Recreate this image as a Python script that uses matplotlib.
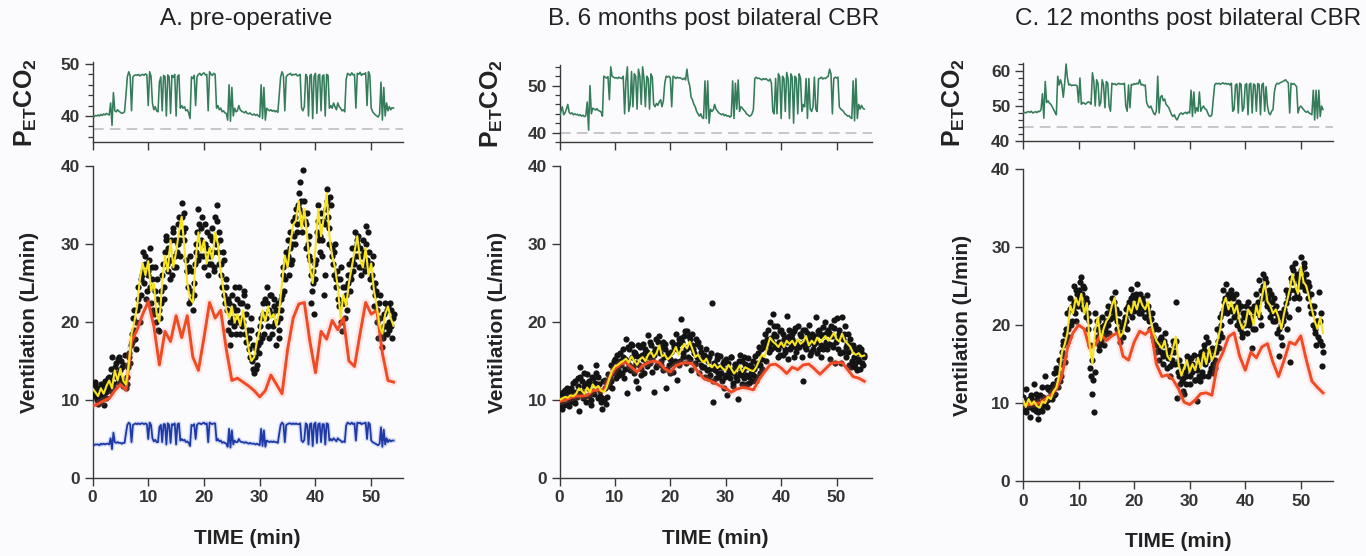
import numpy as np
import matplotlib
matplotlib.use("Agg")
import matplotlib.pyplot as plt
from matplotlib.ticker import MultipleLocator

plt.rcParams['font.family'] = ['Liberation Sans', 'DejaVu Sans']
plt.rcParams['mathtext.fontset'] = 'custom'
plt.rcParams['mathtext.rm'] = 'Liberation Sans'
plt.rcParams['mathtext.bf'] = 'Liberation Sans:bold'

titles = ['A. pre-operative', 'B. 6 months post bilateral CBR', 'C. 12 months post bilateral CBR']
x_ticks = [0, 10, 20, 30, 40, 50]
vent_ticks = [0, 10, 20, 30, 40]

CO2_STEP = 0.25   # min between PETCO2 samples
DOT_STEP = 0.25   # min between breath dots (each dot list)
FIT_STEP = 0.5    # min between yellow fit samples
PRED_STEP = 1.0   # min between red prediction samples

# ---------------- panel A: pre-operative ----------------
co2_a = [
    40.0, 39.8, 40.1, 40.0,  40.2, 40.0, 40.3, 40.1,  40.4, 40.2, 40.5, 40.3,
    40.2, 42.5, 38.2, 44.5,  41.0, 40.8, 41.2, 40.9,  40.7, 40.5, 40.6, 40.8,
    44.0, 47.5, 48.5, 47.8,  41.0, 47.5, 47.8, 47.9,  47.8, 48.0, 47.7, 47.9,
    48.0, 47.8, 48.1, 47.9,  42.0, 48.5, 47.6, 42.5,  41.2, 41.8, 41.0, 40.8,
    46.5, 47.5, 41.0, 47.8,  47.6, 40.0, 47.9, 47.5,  40.5, 47.8, 47.4, 48.0,
    40.0, 47.6, 47.9, 41.5,  42.0, 41.5, 41.8, 41.0,  41.2, 40.6, 39.5, 47.5,
    47.2, 47.8, 42.0, 47.5,  48.0, 48.2, 47.8, 48.1,  48.3, 47.9, 48.0, 41.0,
    48.5, 48.0, 47.8, 48.2,  48.0, 41.5, 42.0, 41.2,  41.5, 40.8, 41.0, 40.6,
    40.5, 39.2, 46.0, 39.0,  45.5, 40.0, 41.5, 40.8,  41.0, 42.0, 41.2, 40.9,
    40.8, 40.6, 40.9, 40.5,  40.4, 40.6, 40.3, 40.2,  40.4, 40.1, 40.3, 40.0,
    39.8, 46.0, 39.5, 45.5,  39.2, 41.5, 41.2, 41.0,  41.2, 40.9, 41.1, 40.8,
    41.0, 40.7, 44.0, 47.5,  48.5, 47.8, 41.0, 47.5,  47.9, 48.0, 48.2, 47.8,
    48.0, 47.9, 48.1, 47.7,  47.8, 48.0, 41.5, 41.0,  41.8, 48.0, 47.5, 40.0,
    47.8, 48.0, 39.5, 47.6,  48.2, 40.5, 47.8, 48.0,  41.0, 47.7, 47.9, 40.0,
    48.0, 47.8, 41.5, 42.0,  41.5, 42.5, 41.8, 41.2,  42.5, 41.8, 41.5, 41.0,
    41.2, 40.8, 47.0, 48.2,  48.0, 47.8, 48.3, 47.9,  48.0, 41.5, 48.2, 48.0,
    48.4, 47.8, 48.1, 48.0,  48.3, 42.0, 48.5, 47.8,  41.5, 40.8, 40.5, 40.2,
    40.0, 39.8, 40.4, 46.5,  39.2, 45.5, 40.0, 42.5,  41.0, 41.8, 41.2, 41.6,
    41.5]
co2_base_a = 37.5
tidal_a = [
    4.3, 4.2, 4.3, 4.3,  4.3, 4.2, 4.4, 4.3,  4.4, 4.3, 4.4, 4.4,
    4.3, 5.1, 3.7, 5.8,  4.6, 4.5, 4.6, 4.5,  4.5, 4.4, 4.5, 4.5,
    5.7, 6.8, 7.1, 6.9,  4.6, 6.8, 6.9, 7.0,  6.9, 7.0, 6.9, 7.0,
    7.0, 6.9, 7.0, 6.9,  5.0, 7.1, 6.8, 5.1,  4.7, 4.9, 4.6, 4.6,
    6.5, 6.8, 4.6, 6.9,  6.9, 4.3, 7.0, 6.8,  4.5, 6.9, 6.8, 7.0,
    4.3, 6.9, 7.0, 4.8,  5.0, 4.8, 4.9, 4.6,  4.7, 4.5, 4.1, 6.8,
    6.7, 6.9, 5.0, 6.8,  7.0, 7.0, 6.9, 7.0,  7.1, 6.9, 7.0, 4.6,
    7.1, 7.0, 6.9, 7.0,  7.0, 4.8, 5.0, 4.7,  4.8, 4.5, 4.6, 4.5,
    4.4, 4.0, 6.3, 3.9,  6.1, 4.3, 4.8, 4.6,  4.6, 5.0, 4.7, 4.6,
    4.6, 4.5, 4.6, 4.5,  4.4, 4.5, 4.4, 4.4,  4.4, 4.3, 4.4, 4.3,
    4.2, 6.3, 4.1, 6.1,  4.0, 4.8, 4.7, 4.6,  4.7, 4.6, 4.7, 4.6,
    4.6, 4.5, 5.7, 6.8,  7.1, 6.9, 4.6, 6.8,  6.9, 7.0, 7.0, 6.9,
    7.0, 6.9, 7.0, 6.9,  6.9, 7.0, 4.8, 4.6,  4.9, 7.0, 6.8, 4.3,
    6.9, 7.0, 4.1, 6.9,  7.1, 4.5, 6.9, 7.0,  4.6, 6.9, 6.9, 4.3,
    7.0, 6.9, 4.8, 5.0,  4.8, 5.1, 4.9, 4.7,  5.1, 4.9, 4.8, 4.6,
    4.7, 4.6, 6.7, 7.1,  7.0, 6.9, 7.1, 6.9,  7.0, 4.8, 7.1, 7.0,
    7.1, 6.9, 7.0, 7.0,  7.1, 5.0, 7.1, 6.9,  4.8, 4.6, 4.5, 4.4,
    4.3, 4.2, 4.4, 6.5,  4.0, 6.2, 4.3, 5.1,  4.6, 4.9, 4.7, 4.8,
    4.8]
dots_a = [
    11.8, 10.5, 12.3, 10.0,  9.5, 11.2, 12.0, 10.3,  9.3, 12.5, 11.0, 12.8,
    13.0, 11.2, 15.5, 12.0,  13.5, 14.8, 12.3, 15.5,  12.8, 14.2, 11.8, 15.8,
    11.5, 13.0, 16.0, 14.8,  17.5, 20.5, 19.0, 16.5,  21.5, 24.5, 20.0, 23.5,
    29.0, 25.0, 27.5, 24.0,  26.5, 29.5, 22.5, 25.5,  21.0, 27.0, 23.0, 19.0,
    18.8, 22.5, 26.0, 24.5,  29.0, 31.0, 26.5, 28.0,  30.5, 26.0, 31.5, 28.5,
    27.0, 30.0, 33.5, 30.5,  35.3, 31.5, 34.0, 28.0,  26.5, 22.5, 28.5, 24.0,
    21.5, 25.0, 29.0, 31.5,  34.5, 28.5, 32.0, 30.0,  27.0, 32.5, 29.5, 26.0,
    31.0, 27.5, 30.5, 26.5,  33.5, 35.0, 29.0, 31.5,  27.5, 24.5, 28.0, 22.5,
    24.5, 19.0, 22.5, 17.0,  23.5, 20.5, 24.5, 18.5,  21.5, 24.5, 18.5, 22.5,
    20.0, 24.0, 17.5, 22.0,  18.0, 15.5, 20.5, 14.0,  13.5, 16.5, 14.5, 18.5,
    17.5, 20.5, 22.5, 18.5,  23.0, 24.5, 19.5, 21.5,  23.5, 18.5, 22.0, 20.0,
    17.0, 22.5, 19.0, 21.5,  23.5, 27.0, 25.5, 29.0,  30.5, 26.0, 31.5, 28.0,
    33.0, 30.0, 34.5, 31.5,  36.5, 37.9, 33.0, 39.5,  35.5, 29.5, 34.0, 31.0,
    28.0, 22.5, 26.5, 21.0,  25.5, 31.5, 35.0, 29.0,  34.0, 28.5, 23.5, 32.5,
    37.0, 33.5, 30.0, 35.0,  29.5, 26.0, 30.0, 24.5,  25.5, 22.0, 27.0, 18.8,
    24.5, 20.5, 23.5, 26.0,  27.5, 24.0, 29.5, 26.5,  31.5, 28.5, 30.0, 27.0,
    29.5, 26.0, 30.5, 27.5,  32.3, 28.0, 31.5, 25.5,  27.5, 24.5, 22.0, 25.0,
    21.5, 18.0, 23.5, 19.0,  16.8, 19.5, 22.5, 18.5,  22.0, 19.0, 21.5, 18.0,
    21.0]
dots2_a = [  # breaths in between, starting at 0.125 min
    11.0, 12.0, 10.8, 11.5,  10.5, 9.8, 11.5, 10.8,  11.8, 10.2, 12.2, 11.5,
    12.5, 14.0, 11.8, 13.2,  14.2, 13.0, 15.2, 13.8,  15.0, 12.5, 14.5, 12.2,
    12.0, 14.2, 15.5, 17.0,  18.5, 21.5, 17.8, 20.0,  23.0, 22.0, 25.5, 26.0,
    26.5, 28.5, 23.0, 26.0,  28.0, 24.5, 27.0, 21.5,  24.0, 20.0, 25.5, 21.5,
    20.5, 24.0, 27.5, 23.0,  30.5, 27.5, 29.5, 25.5,  28.0, 32.0, 27.0, 30.5,
    29.0, 32.5, 28.5, 31.5,  33.5, 30.5, 32.0, 26.5,  24.5, 27.0, 23.0, 26.5,
    23.5, 27.5, 30.0, 28.0,  32.5, 30.5, 33.5, 28.5,  30.0, 28.5, 31.5, 27.5,
    28.5, 32.0, 29.0, 27.0,  30.0, 33.0, 27.5, 30.5,  26.0, 29.0, 23.5, 25.5,
    21.5, 23.0, 20.0, 18.5,  22.0, 19.5, 21.5, 23.0,  20.0, 22.5, 20.5, 19.5,
    23.5, 18.5, 21.0, 19.0,  16.5, 19.0, 15.0, 17.0,  15.5, 14.0, 17.0, 16.0,
    19.5, 18.0, 21.0, 20.5,  20.5, 22.5, 18.0, 23.5,  21.0, 19.5, 23.0, 21.5,
    20.0, 18.0, 20.5, 23.0,  26.0, 24.0, 28.0, 27.5,  28.5, 29.5, 27.5, 30.0,
    31.0, 33.5, 32.5, 35.0,  34.5, 35.5, 31.5, 34.0,  33.0, 32.5, 30.0, 28.5,
    26.0, 24.0, 25.0, 27.5,  28.0, 33.0, 30.5, 31.0,  30.5, 33.0, 26.0, 34.5,
    35.5, 32.0, 36.0, 28.5,  27.5, 29.0, 25.5, 26.5,  23.0, 25.5, 20.0, 22.5,
    22.5, 24.5, 21.5, 25.0,  26.0, 25.5, 28.0, 27.5,  29.5, 30.5, 31.0, 28.5,
    27.0, 28.5, 29.0, 26.5,  30.0, 27.0, 29.0, 27.5,  26.0, 28.5, 23.5, 24.0,
    20.0, 22.5, 20.5, 18.5,  18.0, 21.0, 19.5, 21.5,  20.0, 22.5, 19.5, 20.5]
fit_a = [
    11.5, 11.0, 10.5, 11.5, 10.8, 11.8, 12.5, 11.5, 13.8, 12.5, 14.0, 12.5,
    12.0, 14.5, 18.5, 20.0, 22.0, 25.5, 27.5, 26.0, 27.8, 24.0, 25.0, 21.0,
    20.0, 25.0, 28.5, 26.5, 30.5, 27.0, 29.0, 31.5, 33.5, 29.5, 25.0, 23.0,
    22.5, 28.0, 31.5, 29.0, 30.5, 27.5, 29.5, 28.0, 31.5, 30.0, 26.5, 24.0,
    21.5, 20.5, 22.0, 20.0, 21.0, 19.5, 21.5, 19.0, 16.5, 15.0, 15.5, 17.5,
    19.0, 21.5, 20.0, 22.0, 20.5, 21.0, 19.5, 21.5, 25.0, 28.5, 27.0, 30.0,
    32.5, 33.0, 35.5, 32.0, 34.5, 31.0, 27.0, 25.0, 29.5, 34.5, 31.0, 33.5,
    36.5, 31.0, 28.5, 27.0, 24.5, 20.5, 23.5, 22.0, 25.0, 27.0, 29.0, 31.0,
    28.0, 27.0, 29.5, 26.0, 27.5, 24.0, 22.0, 19.5, 18.5, 21.0, 22.0, 20.5,
    19.5]
pred_a = [
    9.2, 9.5, 9.9, 10.2, 11.2, 12.0, 11.3, 17.5, 19.0, 21.0, 22.6, 19.5,
    14.5, 18.8, 17.5, 20.8, 18.0, 20.8, 15.5, 13.8, 18.0, 22.5, 20.5, 21.5,
    16.5, 12.5, 12.8, 12.3, 11.8, 11.2, 10.4, 11.2, 13.2, 12.0, 10.8, 16.5,
    20.5, 22.3, 22.5, 17.5, 13.5, 18.8, 17.8, 20.2, 19.0, 20.5, 15.0, 14.3,
    18.5, 22.5, 21.0, 21.5, 16.0, 12.5, 12.3]

# ---------------- panel B: 6 months ----------------
co2_b = [
    43.5, 44.5, 45.5, 43.8,  44.2, 45.0, 46.0, 44.3,  44.0, 44.2, 43.8, 44.0,
    43.8, 43.9, 43.6, 43.8,  43.5, 43.7, 43.4, 43.6,  46.5, 40.5, 50.0, 44.0,
    45.2, 45.0, 44.8, 45.1,  44.7, 44.6, 44.4, 43.5,  52.0, 51.8, 51.6, 51.9,
    47.0, 54.0, 52.0, 51.8,  51.6, 51.7, 51.5, 51.8,  51.6, 51.5, 52.0, 44.0,
    51.0, 54.0, 44.5, 46.0,  53.0, 45.5, 52.5, 52.0,  45.0, 53.5, 52.0, 46.0,
    54.0, 51.5, 45.5, 52.0,  51.5, 45.0, 52.5, 51.8,  46.0, 45.5, 46.2, 45.8,
    46.5, 47.0, 45.5, 46.8,  50.5, 52.0, 51.8, 52.0,  51.6, 45.5, 52.0, 51.8,
    51.5, 51.8, 51.6, 51.7,  51.5, 51.3, 51.6, 51.2,  53.5, 51.0, 50.0, 47.5,
    47.0, 46.0, 45.5, 44.5,  44.0, 43.5, 44.0, 43.2,  43.0, 51.0, 43.0, 51.0,
    42.0, 45.0, 44.5, 44.8,  46.0, 45.0, 44.6, 44.2,  44.0, 43.8, 44.0, 43.6,
    43.8, 43.5, 43.6, 43.3,  43.5, 51.0, 43.0, 50.5,  45.0, 51.2, 44.5, 45.5,
    45.2, 44.8, 44.5, 44.0,  43.8, 43.5, 43.6, 44.0,  45.0, 51.5, 51.8, 51.5,
    51.6, 51.4, 51.2, 51.5,  51.3, 51.5, 51.2, 51.0,  51.4, 50.5, 44.5, 44.0,
    51.5, 44.0, 52.5, 51.8,  43.0, 52.0, 51.5, 44.5,  52.8, 51.5, 43.0, 52.5,
    51.8, 42.0, 52.0, 51.5,  44.0, 52.5, 51.5, 44.5,  46.0, 45.5, 51.5, 43.0,
    51.5, 45.0, 44.5, 45.5,  51.8, 45.0, 44.5, 51.5,  51.5, 51.8, 51.4, 51.6,
    51.5, 51.8, 52.0, 53.5,  52.5, 44.0, 51.5, 51.8,  51.6, 51.8, 45.5, 45.0,
    44.8, 44.5, 44.0, 43.8,  43.5, 43.6, 43.2, 43.0,  51.0, 42.5, 51.5, 43.0,
    46.0, 45.0, 45.8, 45.2,  45.0]
co2_base_b = 40.0
dots_b = [
    9.3, 10.8, 8.9, 10.2,  11.3, 9.5, 10.9, 9.8,  11.6, 10.0, 12.2, 9.6,
    11.0, 12.8, 8.6, 14.2,  12.5, 10.2, 11.8, 9.7,  13.3, 10.5, 12.0, 9.3,
    12.8, 10.8, 14.5, 11.5,  13.0, 10.5, 9.8, 8.8,  10.0, 12.6, 10.4, 13.3,
    12.0, 14.5, 11.5, 13.5,  15.3, 12.8, 14.8, 13.2,  16.0, 13.5, 15.5, 14.0,
    17.8, 10.9, 16.5, 13.8,  17.0, 14.2, 16.2, 12.5,  15.6, 11.6, 16.8, 14.0,
    17.2, 13.5, 16.0, 14.4,  18.3, 14.8, 17.0, 13.6,  11.0, 16.5, 14.2, 17.5,
    18.2, 15.0, 16.8, 13.8,  17.2, 11.6, 16.0, 14.5,  15.2, 17.5, 13.6, 16.8,
    18.5, 12.6, 17.8, 15.0,  20.4, 16.0, 18.2, 14.8,  18.8, 15.5, 17.8, 13.8,
    18.5, 16.0, 14.6, 17.2,  17.5, 13.5, 16.2, 14.2,  15.8, 13.0, 16.6, 12.8,
    15.5, 13.2, 22.4, 9.7,  14.5, 12.8, 15.8, 13.0,  15.6, 12.5, 14.8, 11.5,
    15.2, 10.7, 14.0, 12.8,  15.5, 12.2, 13.5, 14.6,  12.6, 10.1, 15.8, 13.2,
    15.0, 12.8, 14.6, 12.0,  15.4, 13.0, 14.2, 12.4,  13.2, 15.6, 12.5, 14.8,
    16.8, 13.5, 15.2, 17.5,  18.5, 15.0, 17.8, 16.2,  20.0, 16.5, 21.0, 18.5,
    17.0, 19.5, 15.5, 18.8,  19.0, 15.8, 17.8, 16.5,  20.8, 15.2, 19.0, 16.8,
    18.5, 15.5, 19.2, 16.2,  19.5, 16.8, 18.2, 15.5,  12.4, 19.0, 16.5, 18.6,
    19.6, 15.8, 18.0, 16.5,  17.5, 20.6, 16.0, 19.0,  18.5, 15.5, 19.4, 16.8,
    20.0, 16.5, 18.8, 15.2,  19.5, 17.0, 20.2, 14.8,  20.5, 16.5, 19.0, 14.8,
    20.7, 16.2, 19.5, 15.5,  18.5, 14.5, 17.8, 15.0,  17.0, 14.2, 16.5, 13.8,
    16.8, 14.0, 16.2, 14.5,  15.5]
dots2_b = [
    10.0, 9.6, 11.0, 9.4,  10.4, 11.5, 9.2, 10.6,  10.8, 11.0, 9.8, 12.5,
    10.4, 11.8, 13.0, 10.9,  11.0, 13.5, 10.5, 12.2,  11.5, 12.5, 10.0, 13.0,
    11.2, 12.2, 13.5, 10.2,  12.0, 11.2, 10.2, 12.5,  11.5, 9.5, 12.0, 11.8,
    13.0, 12.5, 14.0, 15.0,  14.0, 15.8, 13.8, 15.0,  14.5, 16.5, 12.8, 15.2,
    15.0, 16.8, 14.5, 17.2,  15.5, 13.5, 16.0, 14.8,  17.0, 14.5, 13.2, 15.8,
    15.2, 16.5, 14.8, 16.2,  15.5, 17.5, 15.2, 16.0,  15.8, 17.8, 14.5, 16.5,
    16.0, 14.5, 17.5, 15.5,  16.5, 14.0, 15.8, 13.5,  16.2, 14.8, 17.0, 15.0,
    16.5, 17.2, 14.5, 18.0,  17.5, 15.5, 18.8, 16.5,  16.8, 18.2, 15.2, 17.0,
    16.5, 14.8, 17.8, 15.5,  15.2, 16.8, 14.5, 15.5,  14.2, 15.5, 13.8, 15.0,
    14.0, 16.0, 12.5, 14.8,  13.8, 15.2, 13.5, 14.2,  13.5, 14.2, 15.0, 13.0,
    13.2, 14.8, 13.5, 15.5,  13.8, 11.8, 14.5, 13.0,  14.2, 15.0, 13.5, 12.0,
    13.8, 15.5, 13.2, 14.2,  12.2, 14.5, 13.5, 15.0,  14.0, 13.0, 14.5, 16.0,
    14.5, 16.5, 14.0, 17.2,  16.8, 17.5, 19.0, 17.0,  18.0, 17.5, 19.5, 16.8,
    18.2, 16.5, 17.5, 15.8,  17.0, 18.5, 16.2, 18.0,  17.5, 18.2, 16.5, 17.8,
    17.2, 18.8, 16.8, 17.5,  16.8, 18.5, 17.2, 19.0,  17.5, 16.8, 18.0, 17.2,
    17.8, 16.2, 18.5, 17.2,  18.2, 17.5, 18.8, 16.5,  17.0, 18.2, 16.5, 18.5,
    17.5, 19.0, 17.2, 18.5,  18.2, 16.8, 19.2, 17.5,  17.8, 18.5, 16.0, 18.2,
    17.8, 18.5, 16.8, 17.2,  16.2, 17.0, 14.2, 16.5,  15.5, 14.8, 16.0, 15.2,
    15.0, 16.5, 14.8, 15.8]
fit_b = [
    10.0, 10.2, 10.4, 10.3, 10.6, 10.5, 10.8, 11.5, 11.2, 10.8, 11.6, 11.0,
    12.0, 11.5, 11.8, 11.2, 11.0, 11.6, 12.8, 13.8, 14.3, 14.5, 14.8, 15.0,
    15.3, 14.8, 15.6, 15.0, 14.5, 15.2, 15.5, 15.0, 15.8, 16.2, 15.5, 16.0,
    17.0, 15.6, 15.8, 15.2, 15.5, 16.0, 16.8, 15.8, 16.5, 17.2, 16.6, 17.5,
    16.5, 15.5, 15.8, 15.2, 14.8, 15.3, 14.5, 14.2, 14.6, 14.1, 14.4, 14.0,
    13.8, 14.5, 14.0, 13.4, 13.8, 14.4, 13.6, 14.2, 14.0, 13.8, 13.7, 14.2,
    15.0, 15.8, 15.5, 16.8, 18.0, 17.5, 17.2, 16.8, 17.4, 16.8, 17.6, 17.2,
    17.6, 17.0, 17.8, 17.2, 17.5, 18.2, 17.0, 17.6, 17.2, 18.0, 17.4, 17.8,
    18.2, 17.6, 18.0, 18.6, 17.8, 17.5, 18.5, 17.6, 17.2, 16.8, 16.0, 15.8,
    16.0, 15.6, 15.7]
pred_b = [
    9.8, 10.0, 10.3, 10.5, 10.5, 10.6, 11.2, 11.3, 11.2, 12.8, 14.0, 14.6,
    14.8, 14.2, 13.6, 14.4, 14.8, 15.0, 14.8, 14.0, 13.6, 14.4, 14.7, 14.8,
    14.6, 13.6, 12.8, 12.5, 12.2, 11.8, 11.5, 11.0, 11.4, 11.6, 11.5, 11.3,
    12.6, 13.6, 14.5, 14.6, 14.1, 13.4, 14.2, 13.9, 14.5, 14.6, 14.0, 13.3,
    14.0, 14.7, 14.8, 14.8, 13.9, 13.0, 12.8, 12.4]

# ---------------- panel C: 12 months ----------------
co2_c = [
    48.0, 48.2, 48.0, 48.3,  48.4, 48.2, 48.5, 48.0,  48.2, 48.4, 48.1, 48.5,
    48.4, 49.0, 53.5, 46.5,  57.0, 51.0, 51.5, 50.8,  50.5, 49.8, 49.0, 48.2,
    47.5, 58.5, 56.0, 57.5,  56.0, 52.5, 56.5, 62.0,  58.0, 56.0, 56.2, 55.8,
    56.0, 55.9, 56.0, 55.7,  51.0, 58.0, 50.5, 51.0,  50.8, 50.5, 50.9, 51.2,
    51.0, 50.5, 59.5, 57.0,  50.0, 57.5, 56.5, 50.0,  51.0, 57.5, 56.0, 49.5,
    57.0, 56.5, 50.0, 48.5,  56.5, 56.2, 56.4, 56.0,  56.3, 56.5, 56.2, 56.4,
    56.2, 56.5, 50.0, 48.5,  56.0, 49.5, 56.2, 56.0,  56.4, 56.2, 56.5, 56.3,
    57.5, 56.0, 56.2, 55.8,  56.0, 51.0, 50.0, 49.5,  50.0, 49.0, 48.0, 47.5,
    48.5, 58.5, 48.0, 52.5,  53.0, 51.5, 52.0, 50.5,  50.0, 49.5, 48.5, 47.5,
    47.0, 47.5, 46.5, 46.0,  47.0, 47.8, 48.0, 47.6,  48.0, 48.2, 47.8, 48.3,
    48.0, 54.5, 47.0, 54.0,  48.0, 49.5, 48.5, 54.0,  48.5, 49.5, 50.0, 49.2,
    49.0, 48.0, 47.2, 47.0,  47.5, 52.0, 56.0, 56.5,  56.3, 56.5, 56.2, 56.4,
    56.6, 56.3, 56.5, 56.2,  56.4, 56.0, 56.5, 48.5,  49.0, 56.0, 56.3, 48.0,
    56.5, 56.2, 48.5, 49.5,  56.0, 56.4, 47.5, 56.2,  56.5, 48.0, 56.3, 56.0,
    48.5, 56.4, 56.2, 47.5,  56.0, 56.5, 48.5, 55.5,  50.0, 48.0, 47.5, 48.5,
    49.0, 54.0, 56.0, 56.5,  56.3, 56.6, 56.8, 57.0,  57.2, 57.5, 57.0, 56.6,
    48.0, 56.5, 56.2, 56.4,  56.0, 55.5, 48.0, 49.5,  50.0, 49.5, 49.0, 48.5,
    48.2, 48.5, 48.0, 47.8,  47.5, 54.5, 46.0, 54.5,  46.5, 54.5, 47.0, 50.0,
    49.0]
co2_base_c = 44.0
dots_c = [
    10.8, 9.0, 11.8, 9.5,  10.5, 8.2, 11.0, 9.2,  12.5, 9.0, 10.5, 7.9,
    11.0, 9.3, 12.0, 10.5,  13.5, 9.5, 11.8, 10.5,  12.0, 10.5, 13.8, 11.2,
    14.5, 12.0, 15.5, 13.5,  16.5, 18.0, 15.2, 19.5,  21.5, 18.5, 23.5, 20.5,
    22.0, 25.0, 20.5, 24.0,  23.5, 25.5, 26.2, 22.0,  24.8, 21.0, 23.0, 19.5,
    14.5, 13.5, 11.2, 8.8,  21.5, 18.5, 20.5, 16.8,  18.0, 21.0, 17.5, 19.5,
    20.5, 22.5, 19.0, 21.8,  23.5, 21.0, 24.2, 22.0,  19.5, 21.5, 17.8, 20.0,
    18.5, 20.5, 22.0, 19.5,  23.0, 21.5, 24.6, 22.5,  21.8, 23.5, 25.3, 22.0,
    24.0, 21.5, 23.2, 22.0,  21.0, 23.8, 22.5, 20.5,  19.5, 21.5, 18.0, 20.0,
    16.5, 19.5, 15.5, 18.5,  17.5, 15.0, 19.0, 16.5,  14.5, 16.8, 13.5, 15.5,
    18.0, 16.5, 22.9, 10.6,  15.5, 12.5, 14.0, 11.5,  11.1, 13.5, 16.0, 14.5,
    12.5, 15.8, 14.0, 16.2,  13.0, 10.2, 15.5, 13.5,  16.5, 14.0, 17.5, 15.0,
    18.5, 13.5, 16.5, 14.5,  17.0, 13.8, 15.5, 16.5,  19.5, 17.0, 21.0, 18.5,
    24.5, 22.0, 25.3, 21.5,  23.5, 20.5, 24.5, 22.0,  21.0, 24.0, 20.0, 23.0,
    19.5, 22.5, 18.5, 21.0,  21.5, 19.0, 23.0, 20.5,  20.5, 17.0, 22.5, 19.5,
    24.0, 21.5, 25.8, 20.0,  23.5, 26.5, 24.0, 25.5,  22.5, 24.5, 21.0, 23.0,
    20.5, 23.5, 21.5, 19.0,  16.0, 21.5, 18.5, 20.5,  22.0, 24.5, 19.5, 24.0,
    15.2, 26.0, 27.5, 23.5,  24.5, 26.5, 22.0, 25.5,  28.7, 25.0, 27.5, 24.5,
    26.5, 23.5, 25.0, 21.5,  22.5, 20.0, 19.0, 17.5,  20.5, 24.2, 18.0, 14.7,
    16.5]
dots2_c = [
    9.8, 10.2, 8.8, 10.0,  9.5, 10.8, 9.8, 10.2,  9.5, 11.2, 8.8, 10.0,
    10.0, 9.0, 10.8, 9.8,  10.2, 12.0, 10.8, 11.5,  11.5, 12.5, 11.0, 12.2,
    13.0, 14.0, 12.8, 15.0,  17.5, 16.0, 18.8, 17.8,  19.5, 22.0, 20.0, 22.5,
    23.0, 21.5, 24.5, 22.5,  24.5, 23.0, 24.0, 25.0,  22.5, 23.5, 21.5, 20.5,
    17.5, 15.5, 13.0, 14.0,  19.5, 20.5, 17.5, 19.0,  19.8, 18.5, 20.0, 18.8,
    21.5, 20.0, 20.8, 22.0,  22.5, 23.0, 21.5, 20.5,  20.5, 19.0, 18.5, 19.8,
    20.0, 21.0, 20.5, 22.5,  22.0, 23.5, 21.0, 23.8,  22.5, 24.0, 22.8, 21.5,
    22.5, 23.5, 22.8, 21.0,  22.5, 22.0, 21.5, 19.5,  20.8, 18.5, 19.5, 17.5,
    17.8, 16.8, 18.2, 16.5,  16.0, 18.0, 17.5, 16.5,  15.8, 14.8, 16.5, 15.0,
    17.5, 15.0, 18.0, 14.0,  13.5, 14.8, 12.8, 13.2,  14.0, 12.5, 15.5, 15.0,
    13.5, 15.0, 14.5, 13.0,  14.8, 14.2, 16.0, 12.8,  15.5, 13.5, 16.8, 16.0,
    15.5, 17.8, 14.0, 16.0,  15.0, 16.8, 14.5, 17.2,  18.0, 19.0, 20.0, 21.5,
    23.0, 23.5, 22.5, 24.0,  22.0, 24.0, 21.8, 23.5,  22.5, 21.5, 22.0, 20.5,
    20.5, 19.0, 21.5, 20.0,  22.5, 21.0, 20.0, 22.0,  21.0, 19.5, 21.8, 22.5,
    22.0, 23.0, 21.0, 24.5,  25.0, 24.5, 26.0, 23.0,  23.5, 22.0, 24.0, 21.5,
    22.0, 20.5, 22.5, 21.0,  19.5, 20.0, 17.5, 21.0,  21.5, 22.8, 23.5, 21.0,
    24.5, 25.5, 27.0, 28.0,  26.0, 24.0, 23.5, 25.0,  27.0, 26.0, 28.0, 25.5,
    24.5, 25.5, 22.5, 24.0,  21.5, 22.5, 19.5, 20.5,  18.5, 20.5, 21.5, 17.5]
fit_c = [
    10.5, 9.5, 10.5, 9.8, 10.2, 9.6, 9.4, 10.2, 10.0, 10.8, 10.5, 11.5,
    12.0, 13.5, 16.5, 17.5, 19.0, 22.5, 21.5, 23.5, 22.5, 24.0, 21.5, 22.8,
    17.5, 15.0, 19.5, 21.0, 18.0, 19.5, 20.5, 21.0, 22.5, 23.5, 20.0, 18.5,
    19.0, 20.5, 22.5, 21.5, 23.0, 22.0, 23.5, 22.5, 22.0, 23.0, 20.5, 19.0,
    18.0, 17.5, 17.0, 18.0, 16.0, 15.5, 17.0, 18.5, 15.0, 13.5, 14.5, 15.5,
    14.0, 15.0, 14.2, 15.8, 14.5, 16.5, 15.0, 17.0, 15.5, 16.2, 18.0, 19.5,
    22.5, 23.5, 22.0, 23.0, 21.5, 22.5, 20.5, 19.5, 20.0, 22.0, 21.5, 20.0,
    22.5, 21.0, 23.5, 25.5, 23.0, 22.5, 21.5, 22.0, 21.0, 19.5, 21.5, 23.0,
    24.5, 26.5, 25.0, 24.0, 27.5, 25.5, 25.0, 23.5, 22.0, 20.5, 19.5, 21.0,
    19.0]
pred_c = [
    9.8, 9.8, 9.9, 10.0, 10.5, 11.0, 11.8, 13.5, 17.0, 19.0, 20.0, 19.5,
    17.0, 17.5, 18.8, 18.0, 18.6, 19.0, 16.0, 15.5, 17.8, 19.2, 18.8, 19.5,
    15.0, 13.4, 13.6, 13.0, 11.8, 10.1, 9.8, 10.4, 11.2, 11.3, 11.0, 15.0,
    16.5, 18.5, 19.0, 16.0, 14.2, 16.5, 15.8, 17.2, 17.6, 15.2, 13.4, 15.5,
    17.8, 17.5, 18.6, 15.5, 12.8, 12.0, 11.3]

W, H = 1366, 556
BG = '#fbfbfd'
AX_COL = '#3a3a3a'


def rect(left, right, top, bottom):
    return [left / W, 1 - bottom / H, (right - left) / W, (bottom - top) / H]


def times(vals, step, start=0.0):
    return start + np.arange(len(vals)) * step


def style(ax):
    ax.set_facecolor(BG)
    for s in ['top', 'right']:
        ax.spines[s].set_visible(False)
    for s in ['left', 'bottom']:
        ax.spines[s].set_color(AX_COL)
        ax.spines[s].set_linewidth(1.0)
    ax.tick_params(which='major', direction='out', length=6, width=1.0,
                   color=AX_COL, labelcolor='#333333', labelsize=12.5, pad=3)
    ax.tick_params(which='minor', direction='out', length=3.8, width=0.9, color=AX_COL)
    for lab in ax.get_xticklabels() + ax.get_yticklabels():
        lab.set_fontweight('bold')


def draw_panel(fig, box_top, box_bot, xmax, co2, co2_base, co2_lim, co2_major,
               dots, dots2, fit, pred, title, title_x, lab_x_top, lab_x_bot, tidal=None):
    ax1 = fig.add_axes(rect(*box_top))
    ax2 = fig.add_axes(rect(*box_bot))

    # PETCO2 trace
    ax1.axhline(co2_base, color='#b9b9b9', lw=1.1, dashes=(7, 4), zorder=1)
    ax1.plot(times(co2, CO2_STEP), co2, color='#347c5a', lw=1.15, zorder=3)
    ax1.set_xlim(0, xmax)
    ax1.set_ylim(*co2_lim)
    ax1.set_xticks(x_ticks)
    ax1.set_xticklabels([])
    ax1.set_yticks(co2_major)
    ax1.yaxis.set_minor_locator(MultipleLocator(2))
    ax1.set_ylabel(r'$\mathbf{P_{ET}CO_2}$', fontsize=18, color='#222222')
    ax1.yaxis.set_label_coords(lab_x_top, 0.5)
    style(ax1)

    # ventilation
    if tidal is not None:
        tt = times(tidal, CO2_STEP)
        ax2.plot(tt, tidal, color='#8fa3e8', lw=3.2, alpha=0.35, zorder=2)
        ax2.plot(tt, tidal, color='#1f3aa6', lw=1.3, zorder=3)
    ax2.scatter(times(dots, DOT_STEP), dots, s=20, color='#141414', linewidths=0, zorder=4)
    ax2.scatter(times(dots2, DOT_STEP, 0.125), dots2, s=20, color='#141414', linewidths=0, zorder=4)
    tp = times(pred, PRED_STEP)
    ax2.plot(tp, pred, color='#ff8a78', lw=5.5, alpha=0.18, zorder=5, solid_capstyle='round')
    ax2.plot(tp, pred, color='#f04b25', lw=2.1, zorder=6)
    ax2.plot(times(fit, FIT_STEP), fit, color='#f7e41c', lw=1.5, zorder=7)
    ax2.set_xlim(0, xmax)
    ax2.set_ylim(0, 40)
    ax2.set_xticks(x_ticks)
    ax2.set_yticks(vent_ticks)
    ax2.set_ylabel('Ventilation (L/min)', fontsize=15, fontweight='bold', color='#222222')
    ax2.yaxis.set_label_coords(lab_x_bot, 0.5)
    ax2.set_xlabel('TIME (min)', fontsize=15, fontweight='bold', color='#222222')
    ax2.xaxis.set_label_coords(0.5, -0.165)
    style(ax2)

    fig.text(title_x / W, 1 - 19 / H, title, fontsize=17.5, color='#222222',
             ha='center', va='center')


fig = plt.figure(figsize=(W / 100, H / 100), dpi=100, facecolor=BG)

draw_panel(fig, (92.5, 403, 62.4, 142), (92.5, 403, 166, 478), 55.7,
           co2_a, co2_base_a, (35, 50.3), [40, 50],
           dots_a, dots2_a, fit_a, pred_a, titles[0], 246, -0.173, -0.172, tidal=tidal_a)
draw_panel(fig, (559.5, 872, 65.4, 142), (559.5, 872, 166, 478), 56.4,
           co2_b, co2_base_b, (38, 54.3), [40, 50],
           dots_b, dots2_b, fit_b, pred_b, titles[1], 714, -0.175, -0.168)
draw_panel(fig, (1023, 1333, 63.3, 141), (1023, 1333, 169, 481), 55.8,
           co2_c, co2_base_c, (40, 62.2), [40, 50, 60],
           dots_c, dots2_c, fit_c, pred_c, titles[2], 1188, -0.18, -0.165)

fig.savefig('out.png', dpi=100, facecolor=BG)
